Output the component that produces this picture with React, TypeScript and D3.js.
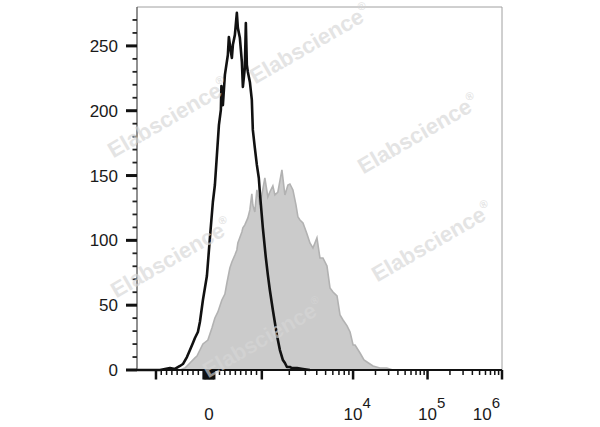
import React from 'react'
import * as d3 from 'd3'

// isotype control (black line): [fluorescence, count]
const isotype: [number, number][] = [
    [-1358, 0], [-925, 0], [-736, 1.5], [-642, 0.8], [-547, 3.1], [-491, 4.6], [-415, 10],
    [-358, 15.4], [-302, 20.8], [-264, 24.7], [-208, 29.3], [-170, 37], [-113, 54], [-38, 72.5],
    [19, 101.9], [75, 129.6], [113, 142.7], [151, 165.8], [189, 188.9], [226, 200.6], [236, 219.1],
    [264, 204.3], [302, 227.6], [358, 243], [377, 256.9], [415, 245.4], [434, 240.7], [453, 250.8],
    [491, 258.5], [528, 275.5], [547, 263.9], [585, 256.2], [623, 237.7], [642, 218.4], [679, 233],
    [698, 267.7], [717, 235.3], [736, 229.9], [774, 222.2], [811, 208.3], [830, 185.2], [868, 171.3],
    [906, 158.2], [943, 148.1], [962, 137.3], [1026, 109.6], [1107, 86.4], [1164, 73.3], [1224, 61.7],
    [1321, 46.3], [1462, 27], [1578, 15.4], [1702, 7.7], [1791, 5.4], [1884, 2.3], [2031, 2.3],
    [2138, 1.5], [2427, 1.5], [2824, 0.8], [3365, 0],
]

// stained sample (grey filled)
const stained: [number, number][] = [
    [-547, 0], [-453, 1.5], [-358, 5.4], [-264, 9.3], [-226, 10.8], [-113, 20.1], [-19, 23.1],
    [57, 32.4], [113, 40.1], [170, 44.8], [245, 54], [302, 58.6], [340, 67.1], [396, 78.7],
    [434, 83.3], [491, 88.7], [528, 92.6], [547, 98], [623, 106.5], [642, 109.6], [679, 111.9],
    [736, 117.3], [774, 123.5], [811, 135.8], [830, 127.3], [868, 121.9], [906, 138.9], [962, 127.3],
    [1000, 135], [1079, 148.1], [1164, 133.5], [1224, 137.3], [1321, 142], [1390, 135], [1500, 137.3],
    [1578, 145.8], [1660, 154.3], [1791, 135], [1931, 142.7], [2031, 143.5], [2192, 138.9],
    [2366, 127.3], [2489, 118], [2618, 115.7], [2824, 113.4], [3126, 104.9], [3365, 98], [3631, 94.1],
    [4018, 101.9], [4335, 86.4], [4677, 86.4], [5176, 80.2], [5585, 63.3], [6026, 60.2], [6668, 57.1],
    [7194, 42.4], [7762, 38.6], [8590, 34], [9268, 29.3], [10000, 19.3], [10633, 19.3], [12393, 13.1],
    [14019, 7.7], [15372, 6.2], [18483, 3.1], [22909, 1.5], [28388, 1.5], [34145, 0],
]

const yMajor = [0, 50, 100, 150, 200, 250]
const xLabels = [
    { v: 0, base: '0', sup: '' },
    { v: 1e4, base: '10', sup: '4' },
    { v: 1e5, base: '10', sup: '5' },
    { v: 1e6, base: '10', sup: '6' },
]

const watermarks: [number, number][] = [
    [168, 118], [310, 44], [418, 134], [171, 258], [432, 242], [263, 338],
]

// biex-like axis: linear within +-1000, log above
const toU = (v: number) => (v <= 1000 ? v / 1000 : Math.log10(v) - 2)

export default function App() {
    const width = 600
    const height = 427
    const margin = { top: 7, right: 98, bottom: 57, left: 137 }
    const innerWidth = width - margin.left - margin.right
    const innerHeight = height - margin.top - margin.bottom

    const xU = d3.scaleLinear()
        .domain([-1, 1, 2, 4])
        .range([0.052, 0.342, 0.592, 1].map(f => f * innerWidth))
    const x = (v: number) => xU(toU(v))
    const y = d3.scaleLinear().domain([0, 280]).range([innerHeight, 0])

    const line = d3.line<[number, number]>().x(d => x(d[0])).y(d => y(d[1]))
    const area = d3.area<[number, number]>().x(d => x(d[0])).y0(y(0)).y1(d => y(d[1]))

    const yMinor = d3.range(10, 280, 10).filter(v => v % 50 !== 0)
    const xMajor = [-1000, 1000, 1e4, 1e5, 1e6]
    const xZero = d3.range(-100, 101, 25)
    const xMinor = [
        ...d3.range(-900, -100, 100), ...d3.range(200, 1000, 100),
        ...[1e3, 1e4, 1e5].flatMap(dec => d3.range(2, 10).map(k => k * dec)),
    ]

    const font = '"Liberation Sans", Arial, sans-serif'

    return (
        <svg width={width} height={height} style={{ position: 'absolute', left: 0, top: 0, background: '#fff' }}
            fontFamily={font}>
            <g transform={`translate(${margin.left},${margin.top})`}>
                {/* frame */}
                <line x1={0} x2={innerWidth} y1={0} y2={0} stroke="#a0a0a0" strokeWidth={1} />
                <line x1={innerWidth} x2={innerWidth} y1={0} y2={innerHeight} stroke="#a0a0a0" strokeWidth={1} />

                <path d={area(stained) || ''} fill="#cbcbcb" />
                <path d={line(stained) || ''} fill="none" stroke="#b2b2b2" strokeWidth={1.6} />
                <path d={line(isotype) || ''} fill="none" stroke="#111" strokeWidth={2.6} strokeLinejoin="round" />

                {/* y axis */}
                <line x1={0} x2={0} y1={0} y2={innerHeight} stroke="#555" strokeWidth={1.3} />
                {yMinor.map(v => (
                    <line key={'ym' + v} x1={-4.5} x2={0} y1={y(v)} y2={y(v)} stroke="#222" strokeWidth={1.8} />
                ))}
                {yMajor.map(v => (
                    <g key={'yM' + v}>
                        <line x1={-11} x2={0} y1={y(v)} y2={y(v)} stroke="#111" strokeWidth={3} />
                        <text x={-19} y={y(v)} dy="0.36em" textAnchor="end" fontSize={17} fill="#1a1a1a">{v}</text>
                    </g>
                ))}

                {/* x axis */}
                <line x1={0} x2={innerWidth} y1={innerHeight} y2={innerHeight} stroke="#111" strokeWidth={2} />
                {xMinor.map(v => (
                    <line key={'xm' + v} x1={x(v)} x2={x(v)} y1={innerHeight} y2={innerHeight + 5} stroke="#111" strokeWidth={1.5} />
                ))}
                {[...xMajor, ...xZero].map(v => (
                    <line key={'xM' + v} x1={x(v)} x2={x(v)} y1={innerHeight} y2={innerHeight + 9.5} stroke="#111" strokeWidth={2.5} />
                ))}
                {xLabels.map(l => {
                    const px = x(l.v)
                    const anchor = l.v === 1e6 ? 'end' : l.sup ? 'start' : 'middle'
                    const tx = l.v === 1e6 ? px - 2 : l.sup ? px - 9.5 : px
                    return (
                        <text key={'xl' + l.v} x={tx} y={innerHeight + 50} textAnchor={anchor} fontSize={17} fill="#1a1a1a">
                            {l.base}
                            {l.sup && <tspan dy={-12} fontSize={15}>{l.sup}</tspan>}
                        </text>
                    )
                })}
            </g>

            {/* watermarks */}
            {watermarks.map(([cx, cy], i) => (
                <text key={'wm' + i} transform={`translate(${cx},${cy}) rotate(-30)`} textAnchor="middle"
                    dy="0.35em" fontSize={22} fontWeight="bold" fill="#d6d6d6" opacity={0.65}>
                    Elabscience<tspan dy={-11} fontSize={11}>®</tspan>
                </text>
            ))}
        </svg>
    )
}
